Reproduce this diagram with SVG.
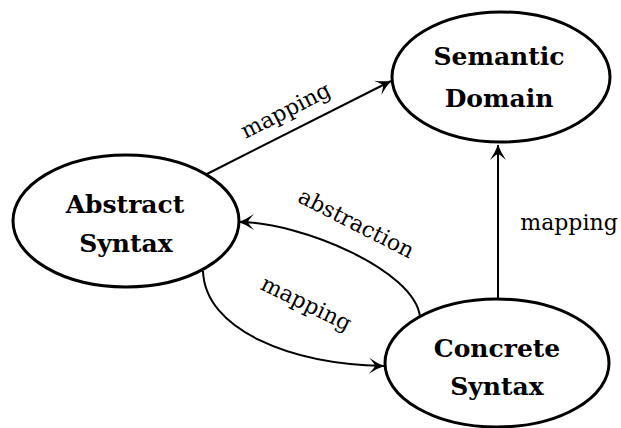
<svg xmlns="http://www.w3.org/2000/svg" width="621" height="428" viewBox="0 0 621 428">
  <style>
    .node ellipse { fill: #ffffff; stroke: #000000; stroke-width: 3; }
    .node text { font-weight: bold; font-size: 25px; text-anchor: middle; fill: #000000; }
    .edge { fill: none; stroke: #000000; stroke-width: 2; marker-end: url(#arrow); }
    .label { font-size: 22px; fill: #000000; text-anchor: middle; }
  </style>
  <defs>
    <!-- barbed arrowhead with a concave back -->
    <marker id="arrow" markerUnits="userSpaceOnUse" markerWidth="17" markerHeight="18" viewBox="-16 -9 17 18" refX="0" refY="0" orient="auto">
      <path d="M 0.5 0 Q -7 -2.5 -15 -8 Q -9 -1.5 -9 0 Q -9 1.5 -15 8 Q -7 2.5 0.5 0 Z" fill="#000000"/>
    </marker>
  </defs>
  <rect width="621" height="428" fill="#ffffff"/>

  <g font-family="DejaVu Serif, serif">
    <g id="connectors">
      <!-- Abstract Syntax to Semantic Domain -->
      <path class="edge" d="M 205 175 L 391 81"/>
      <!-- Concrete Syntax to Semantic Domain -->
      <path class="edge" d="M 498 299 L 498 145"/>
      <!-- abstraction: Concrete Syntax back to Abstract Syntax -->
      <path class="edge" d="M 420 317 C 415 270, 300 222, 239 222"/>
      <!-- mapping: Abstract Syntax to Concrete Syntax -->
      <path class="edge" d="M 203 271 C 205 330, 290 364, 384 366"/>
      <text class="label" transform="translate(289 117) rotate(-27)">mapping</text>
      <text class="label" x="569" y="230">mapping</text>
      <text class="label" transform="translate(353 230) rotate(27)">abstraction</text>
      <text class="label" transform="translate(303 310) rotate(26)">mapping</text>
    </g>

    <g id="abstract-syntax" class="node">
      <ellipse cx="126" cy="221" rx="113" ry="66"/>
      <text x="125" y="213">Abstract</text>
      <text x="126" y="252">Syntax</text>
    </g>

    <g id="semantic-domain" class="node">
      <ellipse cx="501" cy="77" rx="109" ry="65"/>
      <text x="499" y="65">Semantic</text>
      <text x="499" y="107">Domain</text>
    </g>

    <g id="concrete-syntax" class="node">
      <ellipse cx="497" cy="363" rx="112" ry="64"/>
      <text x="497" y="357">Concrete</text>
      <text x="497" y="395">Syntax</text>
    </g>
  </g>
</svg>
